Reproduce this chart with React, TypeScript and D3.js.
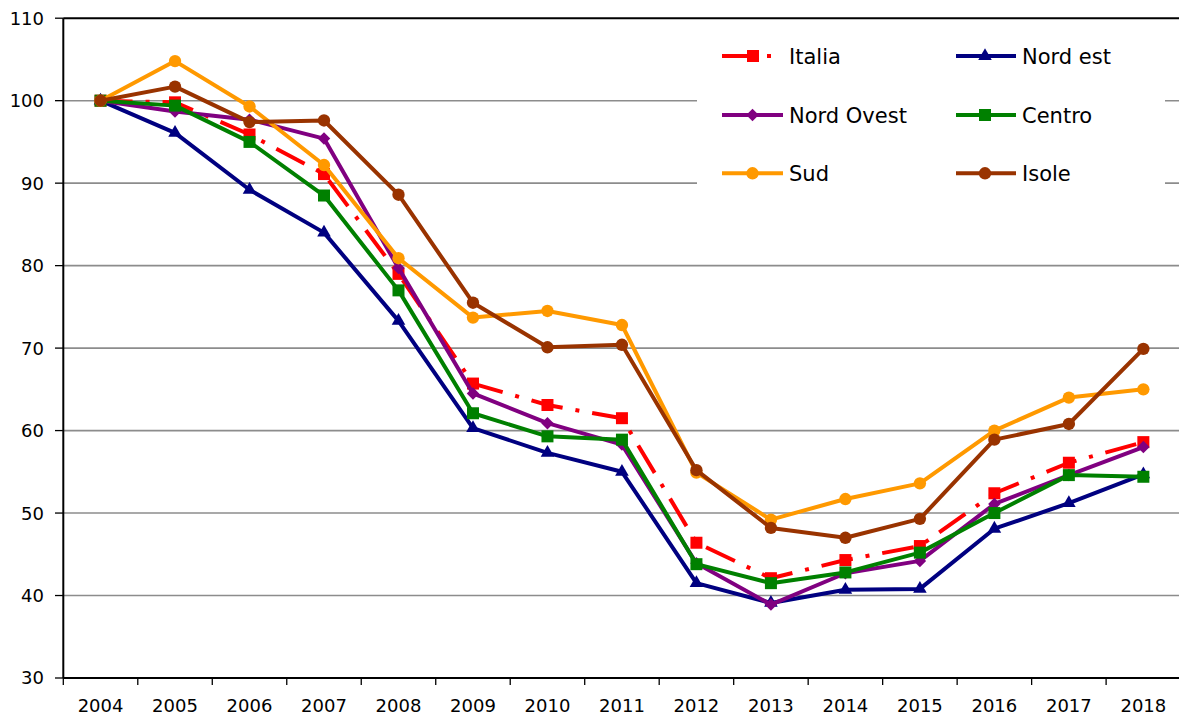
import React from "react";
import { scaleBand, scaleLinear, line, symbol, symbolSquare, symbolCircle, symbolTriangle } from "d3";

const years = ["2004", "2005", "2006", "2007", "2008", "2009", "2010", "2011", "2012", "2013", "2014", "2015", "2016", "2017", "2018"];
const yTicks = [30, 40, 50, 60, 70, 80, 90, 100, 110];

const italia = [100, 99.8, 95.9, 91.1, 79.0, 65.7, 63.1, 61.5, 46.4, 42.1, 44.3, 46.0, 52.4, 56.1, 58.6];
const nordEst = [100, 96.1, 89.2, 84.0, 73.3, 60.3, 57.3, 55.0, 41.5, 39.1, 40.7, 40.8, 48.1, 51.2, 54.7];
const nordOvest = [100, 98.7, 97.7, 95.4, 79.7, 64.5, 60.9, 58.3, 43.9, 38.9, 42.7, 44.2, 51.1, 54.6, 58.0];
const centro = [100, 99.4, 95.0, 88.5, 77.0, 62.1, 59.3, 58.9, 43.8, 41.5, 42.8, 45.2, 50.0, 54.6, 54.4];
const sud = [100, 104.8, 99.3, 92.2, 80.9, 73.7, 74.5, 72.8, 54.9, 49.2, 51.7, 53.6, 60.0, 64.0, 65.0];
const isole = [100, 101.7, 97.4, 97.6, 88.6, 75.5, 70.1, 70.4, 55.2, 48.2, 47.0, 49.3, 58.9, 60.8, 69.9];

const series = [
  { name: "Italia", values: italia, color: "#FF0000", marker: "square", dash: "32 13 4 13" },
  { name: "Nord est", values: nordEst, color: "#000080", marker: "triangle", dash: null },
  { name: "Nord Ovest", values: nordOvest, color: "#800080", marker: "diamond", dash: null },
  { name: "Centro", values: centro, color: "#008000", marker: "square", dash: null },
  { name: "Sud", values: sud, color: "#FF9900", marker: "circle", dash: null },
  { name: "Isole", values: isole, color: "#993300", marker: "circle", dash: null },
];

const W = 1179;
const H = 718;
const margin = { left: 63.3, right: 1180.6, top: 18.2, bottom: 678 };
const font = "'DejaVu Sans', Verdana, sans-serif";

const markerPath = (m: string) => {
  if (m === "square") return symbol(symbolSquare, 144)() as string;
  if (m === "diamond") return symbol(symbolSquare, 78)() as string;
  if (m === "triangle") return symbol(symbolTriangle, 80)() as string;
  return symbol(symbolCircle, 120)() as string;
};

const Marker = ({ m, x, y, color }: { m: string; x: number; y: number; color: string }) => (
  <path
    d={markerPath(m)}
    fill={color}
    transform={`translate(${x},${y})${m === "diamond" ? " rotate(45)" : ""}`}
  />
);

export default function App() {
  const x = scaleBand<string>().domain(years).range([margin.left, margin.right]).padding(0);
  const y = scaleLinear().domain([30, 110]).range([margin.bottom, margin.top]);
  const cx = (d: string) => (x(d) as number) + x.bandwidth() / 2;

  const lineGen = line<number>()
    .x((_, i) => cx(years[i]))
    .y((v) => y(v));

  const boundaries = years.map((d) => x(d) as number);

  // legend layout
  const legendRows = [56, 115, 173.3];
  const legendCols = [{ x0: 722, x1: 783, tx: 789 }, { x0: 956, x1: 1016, tx: 1022 }];

  return (
    <div style={{ position: "absolute", left: 0, top: 0 }}>
      <svg width={W} height={H} style={{ display: "block", background: "#fff" }}>
        {/* gridlines */}
        {yTicks.filter((t) => t > 30 && t < 110).map((t) => (
          <line key={t} x1={margin.left} x2={margin.right} y1={y(t)} y2={y(t)} stroke="#8c8c8c" strokeWidth={1.6} />
        ))}

        {/* legend box hides gridlines */}
        <rect x={697} y={24} width={468} height={186} fill="#fff" />

        {/* top border */}
        <line x1={margin.left} x2={margin.right} y1={margin.top} y2={margin.top} stroke="#000" strokeWidth={2} />

        {/* axes */}
        <line x1={margin.left} x2={margin.left} y1={margin.top} y2={margin.bottom} stroke="#000" strokeWidth={2} />
        <line x1={margin.left} x2={margin.right} y1={margin.bottom} y2={margin.bottom} stroke="#000" strokeWidth={2} />

        {/* y ticks */}
        {yTicks.map((t) => (
          <g key={t}>
            <line x1={55} x2={margin.left} y1={y(t)} y2={y(t)} stroke="#000" strokeWidth={1.3} />
            <text x={44} y={y(t)} dy="0.36em" textAnchor="end" fontFamily={font} fontSize={18} fill="#000">
              {t}
            </text>
          </g>
        ))}

        {/* x ticks */}
        {boundaries.map((b, i) => (
          <line key={i} x1={b} x2={b} y1={margin.bottom} y2={margin.bottom + 7} stroke="#000" strokeWidth={1.3} />
        ))}
        {years.map((d) => (
          <text key={d} x={cx(d)} y={712} textAnchor="middle" fontFamily={font} fontSize={18} fill="#000">
            {d}
          </text>
        ))}

        {/* series */}
        {series.map((s) => (
          <g key={s.name}>
            <path
              d={lineGen(s.values) as string}
              fill="none"
              stroke={s.color}
              strokeWidth={4}
              strokeLinejoin="round"
              strokeDasharray={s.dash || undefined}
            />
            {s.values.map((v, i) => (
              <Marker key={i} m={s.marker} x={cx(years[i])} y={y(v)} color={s.color} />
            ))}
          </g>
        ))}

        {/* legend */}
        {series.map((s, i) => {
          const col = legendCols[i % 2];
          const ry = legendRows[Math.floor(i / 2)];
          const mx = (col.x0 + col.x1) / 2 + (i % 2 === 0 ? 0 : -1);
          return (
            <g key={s.name}>
              <line
                x1={col.x0}
                x2={col.x1}
                y1={ry}
                y2={ry}
                stroke={s.color}
                strokeWidth={4}
                strokeDasharray={s.dash || undefined}
              />
              <Marker m={s.marker} x={i === 0 ? 753 : mx} y={ry} color={s.color} />
              <text x={col.tx} y={ry} dy="0.36em" fontFamily={font} fontSize={21} fill="#000">
                {s.name}
              </text>
            </g>
          );
        })}
      </svg>
    </div>
  );
}
